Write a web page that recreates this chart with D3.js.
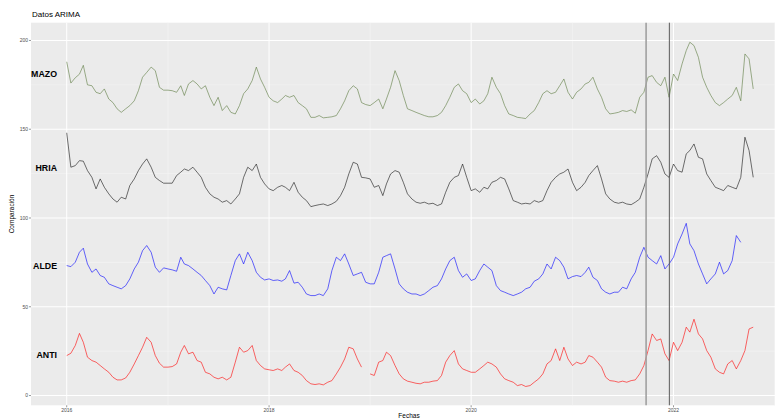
<!DOCTYPE html>
<html>
<head>
  <title>Datos ARIMA</title>
  <script src="https://d3js.org/d3.v7.min.js"></script>
  <style>
    body { margin: 0; background: #fff; font-family: "Liberation Sans", Arial, sans-serif; }
    svg { display: block; overflow: hidden; }
    .tick-label { font-size: 5px; fill: #4d4d4d; }
    .axis-title { font-size: 6.5px; fill: #000; }
    .series-label { font-size: 8.8px; font-weight: bold; fill: #000; text-anchor: end; }
  </style>
</head>
<body>
  <div id="chart"></div>
  <script>
    // semi-monthly observations, 1st and 16th of each month from Jan 2016
    const nObs = 164;
    const dates = d3.range(nObs).map(k => new Date(2016, Math.floor(k / 2), k % 2 ? 16 : 1));

    const mazo = [
      188, 176, 179, 181, 186, 175, 174.5, 170.8, 170, 172.7, 167, 165,
      161.5, 159.5, 161.5, 163.3, 166, 171.7, 179.3, 182, 185, 183, 173.6, 172,
      172, 171.7, 170.8, 174.5, 169, 175.5, 177.4, 175.5, 172.7, 174.5, 168, 163.3,
      168, 160.5, 163.3, 159.5, 158.6, 163.3, 170, 172.7, 177.4, 185, 178.3, 173.6,
      168, 166, 165, 167, 169, 168, 169, 165, 163.3, 161.5, 156.7, 156.7,
      157.7, 156.4, 156.7, 157, 157.7, 161.5, 166, 171.7, 174.5, 172.7, 165, 163.9,
      163.3, 165, 167, 161.5, 167, 173.6, 183, 177.4, 169, 161.5, 160.5, 159.5,
      158.6, 157.7, 157, 157, 157.7, 159.5, 163.3, 168, 173.6, 175.5, 171.7, 170,
      165, 167, 164.2, 166, 170, 179.3, 173.6, 170, 163.3, 158.6, 157.7, 156.7,
      156.4, 156, 158.6, 160.5, 165, 170, 171.7, 170, 170.8, 174.5, 178.3, 170.8,
      167, 170.8, 172.7, 175.5, 176.4, 179.3, 172.7, 168, 161.5, 158.6, 159, 159.5,
      160.5, 160, 160.9, 159, 168, 170.8, 179.3, 180.2, 176.4, 174.5, 179.3, 168,
      181.1, 177.4, 186.8, 194.3, 199, 197.1, 190.5, 179.3, 173.6, 169, 165, 163.3,
      165, 167, 169, 173.6, 166, 192.4, 189.6, 172.7
    ];
    const hria = [
      148, 128.6, 129.5, 132.3, 132, 126.7, 122.9, 116.4, 122, 117.3, 113.6, 110.7,
      108.9, 111.7, 110.7, 118.3, 122, 126.7, 130.4, 133.3, 128.6, 122.9, 121.1, 119.6,
      119.6, 119.6, 123.9, 125.8, 127.6, 126.7, 128.6, 125.8, 122.9, 117.3, 113.6, 111.7,
      110.7, 108.9, 109.8, 107.9, 110.7, 113.6, 122.9, 128.6, 126.7, 130.4, 122.9, 119.2,
      116.4, 115.4, 117.3, 118.3, 117.3, 115.4, 120.1, 114.5, 111.7, 109.8, 106.4, 107,
      107.5, 107.9, 107, 107.9, 109.4, 112.6, 117.3, 124.8, 131.4, 130.4, 122.9, 122.6,
      122, 117.3, 118.3, 112.6, 119.2, 124.8, 126.7, 125.8, 120.1, 113.6, 110.7, 108.9,
      108.3, 108.9, 107.9, 108.3, 107, 107.9, 114.5, 120.1, 122.9, 123.9, 130.4, 122.9,
      115.4, 116.4, 114.5, 117.3, 116.4, 120.1, 121.1, 122.9, 122, 116.4, 109.8, 108.9,
      107.9, 108.3, 107.9, 109.8, 108.9, 109.8, 115.4, 120.1, 122.9, 124.8, 125.8, 127.6,
      120.1, 115.4, 117.3, 120.1, 123.9, 126.7, 129.5, 122, 113.6, 110.7, 108.9, 108.3,
      108.9, 107.9, 107.5, 108.9, 110.7, 117.3, 124.8, 133.3, 135.1, 131.4, 124.8, 122.9,
      130.4, 126.7, 125.8, 136.1, 138, 141.7, 134.2, 133.3, 124.8, 121.1, 117.3, 116.4,
      115.4, 118.3, 117.3, 116.4, 122.9, 145.5, 138, 122.9
    ];
    const alde = [
      73.2, 72.6, 75.1, 80.7, 83, 74.1, 69.4, 71.3, 67.6, 66.6, 62.9, 61.9,
      61, 60.1, 61.9, 65.7, 71.3, 75.1, 81.6, 84.5, 80.7, 72.3, 69.4, 71.9,
      71.3, 70.8, 70, 77.9, 74.1, 73.2, 71.3, 69.4, 67.6, 64.8, 61.9, 57.2,
      61, 60.1, 59.5, 67.6, 76, 79.8, 74.1, 80.7, 76, 69.4, 66.6, 65.1,
      65.7, 64.8, 65.1, 64.4, 65.7, 70.4, 63.3, 63.8, 61, 57.2, 56.3, 56.3,
      57.2, 56.3, 60.1, 70.4, 77.9, 76, 79.8, 74.1, 67.6, 68.5, 69.4, 63.8,
      62.9, 62.9, 69.4, 77.9, 78.8, 79.8, 71.3, 62.9, 60.1, 58.2, 57.2, 57.2,
      56.3, 57.2, 59.1, 61, 61.9, 65.7, 71.3, 76, 77.9, 70.4, 66.6, 68.5,
      64.8, 65.7, 70.4, 74.1, 72.3, 70.4, 61.9, 59.1, 58.2, 57.2, 56.3, 57.2,
      58.2, 60.1, 61, 64.4, 65.7, 68.5, 74.1, 71.3, 77.9, 76, 72.3, 65.7,
      67, 67.6, 67, 69.4, 72.3, 66.6, 64.8, 60.1, 58.2, 57.2, 58.2, 58.2,
      61, 60.1, 65.7, 69.4, 77.9, 83.5, 77.9, 76, 74.1, 78.8, 71.3, 74.1,
      77.9, 85.4, 91, 97, 85.4, 81.6, 74.1, 68.5, 62.9, 65.7, 68.5, 75.1,
      68.5, 70.4, 76, 90.1, 86.3, null, null, null
    ];
    const anti = [
      22.5, 23.8, 28.2, 35, 30, 21.6, 19.7, 18.8, 16.9, 15, 13.1, 10.3,
      8.8, 8.8, 9.9, 13.1, 17.8, 22.5, 27.2, 32.8, 30, 22.5, 18.2, 16,
      16, 16.3, 17.8, 24.4, 28.2, 23.5, 24.4, 19.7, 18.8, 13.1, 12.2, 10.3,
      9.4, 10.3, 8.8, 10.3, 18.8, 27.2, 24.4, 25.3, 28.2, 19.7, 16.9, 15,
      14.5, 14.1, 15, 14.1, 16, 17.8, 14.1, 13.1, 11.3, 8.4, 6.6, 6.2,
      6.6, 6, 7.5, 8.4, 12.2, 16, 20.6, 27.2, 26.3, 20.6, 16, null,
      12.2, 11.3, 18.8, 19.7, 24.4, 22.5, 16.9, 12.2, 9.4, 8.1, 7.5, 6.9,
      6.6, 7.5, 7.5, 8.1, 8.4, 11.3, 18.8, 22.5, 25.3, 17.8, 15, 14.1,
      13.1, 13.1, 15, 16.9, 18.8, 17.8, 16, 12.2, 9.4, 8.4, 7.5, 5.6,
      6.2, 5.1, 5.6, 7.5, 9.4, 12.2, 17.8, 19.7, 26.3, 19.7, 27.2, 20.6,
      16.9, 18.8, 17.8, 18.8, 22.5, 21.6, 18.8, 16, 10.3, 8.4, 8.1, 7.5,
      8.1, 7.5, 8.4, 8.8, 12.2, 16.9, 25.3, 34.7, 31, 31.9, 23.5, 19.7,
      30, 25.3, 30, 38.5, 35.7, 43, 34.7, 31.9, 25.3, 21.6, 15, 13.1,
      12.2, 17.8, 19.7, 15, 19.7, 25.3, 37.5, 38.5
    ];

    const seriesNames = ["MAZO", "HRIA", "ALDE", "ANTI"];
    const seriesValues = [mazo, hria, alde, anti];
    const seriesColors = ["#5b7a3f", "#111111", "#0000ff", "#ff0000"];
    const labelValues = [181, 128, 73, 23];
    const labelDate = new Date(2015, 10, 27);

    const yTicks = [0, 50, 100, 150, 200];
    const yMinor = [25, 75, 125, 175];
    const xTickYears = [2016, 2018, 2020, 2022];
    const xMinorYears = [2017, 2019, 2021, 2023];
    const markerDates = [new Date(2021, 8, 24), new Date(2021, 11, 17)];
    const markerColors = ["#a0a0a0", "#5a5a5a"];
    const markerWidths = [1.6, 1];

    const width = 775, height = 420;
    const panel = {left: 31, right: 787, top: 22.7, bottom: 405.3};

    const svg = d3.select("#chart")
      .append("svg")
        .attr("width", width)
        .attr("height", height);

    const x = d3.scaleTime()
      .domain([new Date(2015, 7, 25), new Date(2023, 1, 15)])
      .range([panel.left, panel.right]);

    const y = d3.scaleLinear()
      .domain([-5.5, 210])
      .range([panel.bottom, panel.top]);

    // panel background
    svg.append("rect")
      .attr("x", panel.left)
      .attr("y", panel.top)
      .attr("width", panel.right - panel.left)
      .attr("height", panel.bottom - panel.top)
      .attr("fill", "#ebebeb");

    // grid
    const grid = svg.append("g");
    grid.selectAll(".ymin").data(yMinor).join("line")
      .attr("x1", panel.left).attr("x2", panel.right)
      .attr("y1", d => y(d)).attr("y2", d => y(d))
      .attr("stroke", "#f7f7f7").attr("stroke-width", 0.5);
    grid.selectAll(".xmin").data(xMinorYears).join("line")
      .attr("x1", d => x(new Date(d, 0, 1))).attr("x2", d => x(new Date(d, 0, 1)))
      .attr("y1", panel.top).attr("y2", panel.bottom)
      .attr("stroke", "#f7f7f7").attr("stroke-width", 0.5);
    grid.selectAll(".ymaj").data(yTicks).join("line")
      .attr("x1", panel.left).attr("x2", panel.right)
      .attr("y1", d => y(d)).attr("y2", d => y(d))
      .attr("stroke", "#ffffff").attr("stroke-width", 1);
    grid.selectAll(".xmaj").data(xTickYears).join("line")
      .attr("x1", d => x(new Date(d, 0, 1))).attr("x2", d => x(new Date(d, 0, 1)))
      .attr("y1", panel.top).attr("y2", panel.bottom)
      .attr("stroke", "#ffffff").attr("stroke-width", 1);

    // series lines
    const line = d3.line()
      .defined(d => d.v != null)
      .x(d => x(d.date))
      .y(d => y(d.v));

    seriesValues.forEach((vals, i) => {
      const pts = dates.map((date, k) => ({date, v: vals[k]}));
      svg.append("path")
        .datum(pts)
        .attr("fill", "none")
        .attr("stroke", seriesColors[i])
        .attr("stroke-width", 0.7)
        .attr("stroke-opacity", 0.85)
        .attr("stroke-linejoin", "round")
        .attr("d", line);
    });

    // vertical markers
    svg.selectAll(".marker").data(markerDates).join("line")
      .attr("x1", d => x(d)).attr("x2", d => x(d))
      .attr("y1", panel.top).attr("y2", panel.bottom)
      .attr("stroke", (d, i) => markerColors[i])
      .attr("stroke-width", (d, i) => markerWidths[i]);

    // series labels
    svg.selectAll(".series-label").data(seriesNames).join("text")
      .attr("class", "series-label")
      .attr("x", x(labelDate))
      .attr("y", (d, i) => y(labelValues[i]))
      .attr("dy", "0.35em")
      .text(d => d);

    // y axis
    const yAxis = svg.append("g");
    yAxis.selectAll("line").data(yTicks).join("line")
      .attr("x1", panel.left - 2).attr("x2", panel.left)
      .attr("y1", d => y(d)).attr("y2", d => y(d))
      .attr("stroke", "#333").attr("stroke-width", 0.5);
    yAxis.selectAll("text").data(yTicks).join("text")
      .attr("class", "tick-label")
      .attr("x", panel.left - 3)
      .attr("y", d => y(d))
      .attr("dy", "0.35em")
      .attr("text-anchor", "end")
      .text(d => d);

    // x axis
    const xAxis = svg.append("g");
    xAxis.selectAll("line").data(xTickYears).join("line")
      .attr("x1", d => x(new Date(d, 0, 1))).attr("x2", d => x(new Date(d, 0, 1)))
      .attr("y1", panel.bottom).attr("y2", panel.bottom + 2)
      .attr("stroke", "#333").attr("stroke-width", 0.5);
    xAxis.selectAll("text").data(xTickYears).join("text")
      .attr("class", "tick-label")
      .attr("x", d => x(new Date(d, 0, 1)))
      .attr("y", panel.bottom + 7)
      .attr("text-anchor", "middle")
      .text(d => d);

    // titles
    svg.append("text")
      .attr("x", panel.left + 1)
      .attr("y", 17)
      .attr("font-size", "8px")
      .text("Datos ARIMA");

    svg.append("text")
      .attr("class", "axis-title")
      .attr("x", (panel.left + panel.right) / 2)
      .attr("y", 418)
      .attr("text-anchor", "middle")
      .text("Fechas");

    svg.append("text")
      .attr("class", "axis-title")
      .attr("transform", `translate(14, ${(panel.top + panel.bottom) / 2}) rotate(-90)`)
      .attr("text-anchor", "middle")
      .text("Comparación");
  </script>
</body>
</html>
